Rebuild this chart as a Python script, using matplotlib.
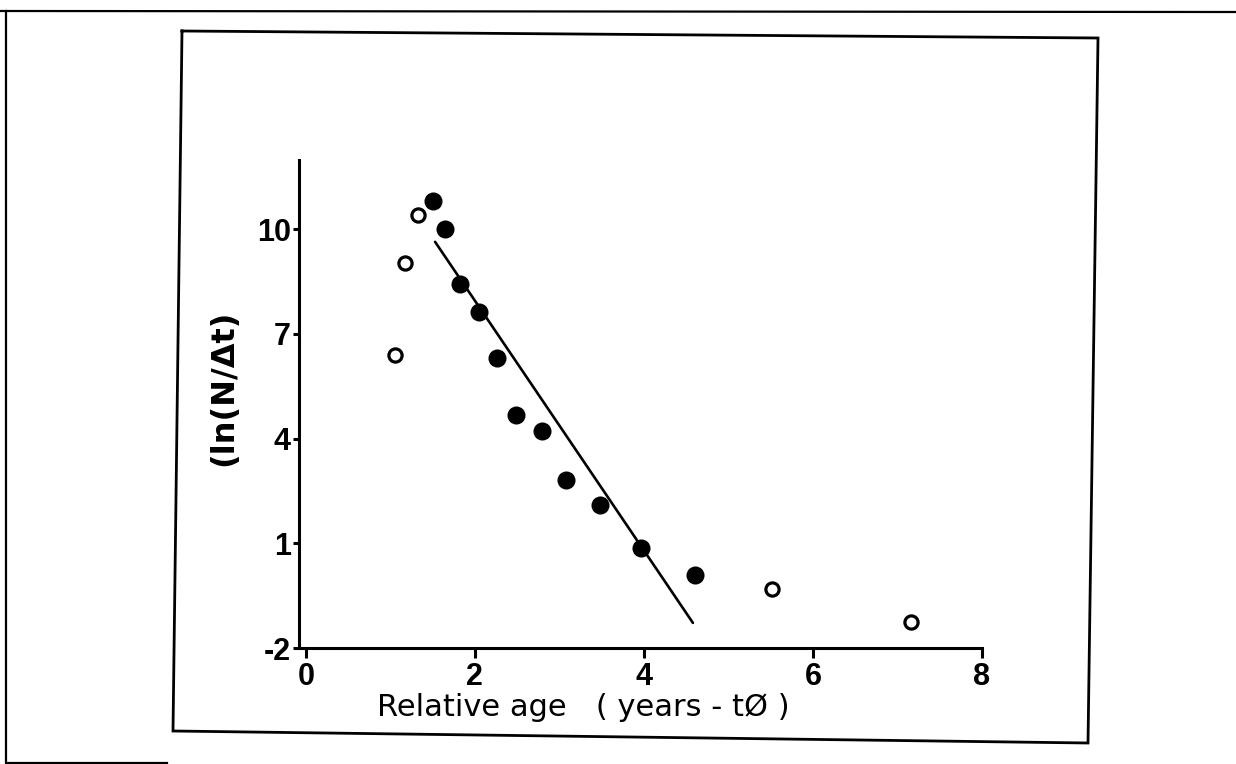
import matplotlib
matplotlib.use("Agg")
import matplotlib.pyplot as plt
from matplotlib.lines import Line2D

# ---- data ----
filled_x = [1.51, 1.645, 1.83, 2.05, 2.26, 2.49, 2.79, 3.08, 3.48, 3.96, 4.61]
filled_y = [10.81, 10.02, 8.42, 7.63, 6.31, 4.67, 4.21, 2.82, 2.10, 0.88, 0.09]
open_x = [1.05, 1.17, 1.33, 5.51, 7.16]
open_y = [6.39, 9.03, 10.40, -0.32, -1.25]
fit_x = [1.53, 4.58]
fit_y = [9.64, -1.28]
xticks = [0, 2, 4, 6, 8]
yticks = [-2, 1, 4, 7, 10]
xlabel = "Relative age   ( years - t\u00d8 )"
ylabel = "(ln(N/\u0394t)"

W, H = 1236, 764
fig = plt.figure(figsize=(W / 100, H / 100), dpi=100)
fig.patch.set_facecolor("white")

def fx(px):
    return px / W

def fy(py):
    return 1 - py / H

# axes placement in pixels
x_lo, x_hi = -0.08, 8.0
y_lo, y_hi = -2.0, 12.0
ax_left, ax_right = 299.0, 982.0
ax_top, ax_bottom = 159.5, 648.0
ax = fig.add_axes([fx(ax_left), fy(ax_bottom), (ax_right - ax_left) / W, (ax_bottom - ax_top) / H])
ax.set_xlim(x_lo, x_hi)
ax.set_ylim(y_lo, y_hi)
ax.patch.set_alpha(0)

for s in ["top", "right"]:
    ax.spines[s].set_visible(False)
for s in ["left", "bottom"]:
    ax.spines[s].set_linewidth(2.2)
    ax.spines[s].set_color("black")

ax.set_xticks(xticks)
ax.set_yticks(yticks)
ax.set_xticklabels([str(t) for t in xticks])
ax.set_yticklabels([str(t) for t in yticks])
ax.tick_params(axis="x", direction="out", length=7, width=2.2, pad=3, labelsize=22)
ax.tick_params(axis="y", direction="out", length=4, width=2.2, pad=2, labelsize=22)
for lab in ax.get_xticklabels() + ax.get_yticklabels():
    lab.set_family(["Liberation Sans", "DejaVu Sans"])
    lab.set_fontweight("bold")

ax.plot(fit_x, fit_y, color="black", lw=1.9, solid_capstyle="round")
ax.plot(filled_x, filled_y, "o", color="black", markersize=13, markeredgewidth=0)
ax.plot(open_x, open_y, "o", markerfacecolor="white", markeredgecolor="black",
        markersize=9.5, markeredgewidth=2.3)

fig.text(fx(583), fy(707), xlabel, ha="center", va="center", fontsize=22)
fig.text(fx(224), fy(388), ylabel, ha="center", va="center", rotation=90,
         fontsize=23, fontweight="bold")

# scanned page frames
def frame(pts, lw):
    xs = [fx(p[0]) for p in pts]
    ys = [fy(p[1]) for p in pts]
    fig.add_artist(Line2D(xs, ys, transform=fig.transFigure, color="black", lw=lw,
                          solid_joinstyle="miter"))

frame([(182, 31), (1098, 38), (1088, 743), (173, 731), (182, 31)], 2.0)
frame([(0, 11), (1236, 12)], 1.6)
frame([(6, 11), (6, 763), (167, 763)], 1.6)

fig.savefig("out.png", dpi=100, facecolor="white")
